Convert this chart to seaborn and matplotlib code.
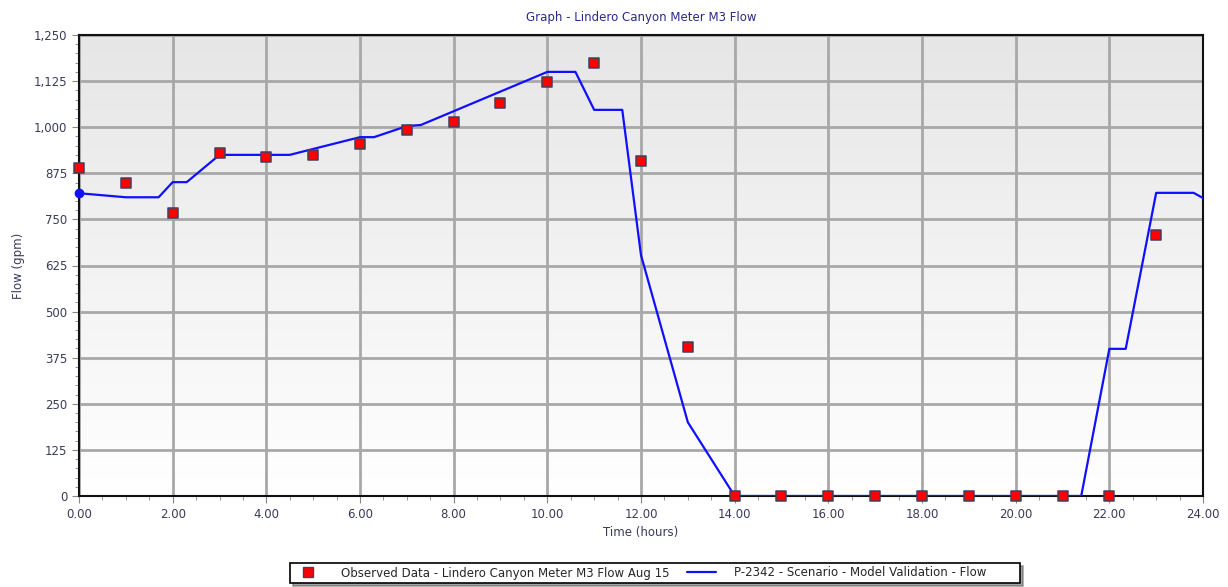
import numpy as np
import pandas as pd
import seaborn as sns
import matplotlib.pyplot as plt
from matplotlib.ticker import MultipleLocator, FuncFormatter
from matplotlib.colors import LinearSegmentedColormap
from matplotlib.lines import Line2D

# Observed data (hourly)
obs_hours = list(range(0, 24))
obs_flow = [889, 849, 767, 930, 919, 925, 954, 992, 1014, 1066, 1123, 1174,
            908, 404, 0, 0, 0, 0, 0, 0, 0, 0, 0, 708]

# Model flow (breakpoints of the simulated curve)
model_hours = [0, 1, 1.7, 2.0, 2.3, 3.0, 4.5, 6.0, 6.3, 7.0, 7.3, 10.0, 10.6,
               11.0, 11.6, 12.0, 13.0, 14.0, 21.4, 22.0, 22.35, 23.0, 23.8, 24.0]
model_flow = [821, 810, 810, 851, 851, 925, 925, 973, 973, 1003, 1006, 1150, 1150,
              1047, 1047, 653, 200, 0, 0, 399, 399, 822, 822, 808]

obs = pd.DataFrame({'hours': obs_hours, 'flow': obs_flow})
model = pd.DataFrame({'hours': model_hours, 'flow': model_flow})

sns.set_style('white')
plt.rcParams['font.family'] = ['DejaVu Sans']
text_col = '#3a3a5a'

fig = plt.figure(figsize=(12.28, 5.87), dpi=100)
ax = fig.add_axes([79 / 1228, 1 - 496 / 587, (1203 - 79) / 1228, (496 - 35) / 587])

# gradient background
cmap = LinearSegmentedColormap.from_list('bg', ['#ffffff', '#e6e6e6'])
grad = np.linspace(0, 1, 256).reshape(-1, 1)
ax.imshow(grad, cmap=cmap, extent=[0, 1, 0, 1], transform=ax.transAxes,
          aspect='auto', origin='lower', zorder=0)

sns.lineplot(data=model, x='hours', y='flow', color='#1010ff', lw=1.6, ax=ax, zorder=3)
ax.plot(model_hours[0], model_flow[0], 'o', color='#1010ff', ms=6, zorder=4, clip_on=False)
sns.scatterplot(data=obs, x='hours', y='flow', marker='s', s=48, color='#ff0000',
                edgecolor='#404060', linewidth=1.1, ax=ax, zorder=5, clip_on=False)

ax.set_xlim(0, 24)
ax.set_ylim(0, 1250)
ax.xaxis.set_major_locator(MultipleLocator(2))
ax.xaxis.set_minor_locator(MultipleLocator(0.5))
ax.yaxis.set_major_locator(MultipleLocator(125))
ax.yaxis.set_minor_locator(MultipleLocator(25))
ax.xaxis.set_major_formatter(FuncFormatter(lambda v, p: f'{v:.2f}'))
ax.yaxis.set_major_formatter(FuncFormatter(lambda v, p: f'{v:,.0f}'))
ax.tick_params(axis='both', which='major', direction='out', length=5, color='#888888',
               labelsize=8.5, labelcolor=text_col)
ax.tick_params(axis='both', which='minor', direction='out', length=3, color='#888888')
ax.tick_params(axis='x', which='both', bottom=True)
ax.tick_params(axis='y', which='both', left=True)

ax.grid(True, which='major', color='#a8a8a8', lw=2, zorder=1)
ax.set_axisbelow(True)
for s in ax.spines.values():
    s.set_visible(True)
    s.set_color('#111111')
    s.set_linewidth(1.5)

ax.set_xlabel('Time (hours)', fontsize=8.5, color=text_col, labelpad=4)
ax.set_ylabel('Flow (gpm)', fontsize=8.5, color=text_col, labelpad=6)
ax.set_title('Graph - Lindero Canyon Meter M3 Flow', fontsize=8.5, color='#2a2a8a', pad=10)

handles = [Line2D([], [], marker='s', ls='none', color='#ff0000', markeredgecolor='#404060',
                  ms=7),
           Line2D([], [], color='#1010ff', lw=1.6)]
labels = ['Observed Data - Lindero Canyon Meter M3 Flow Aug 15',
          'P-2342 - Scenario - Model Validation - Flow        ']
leg = fig.legend(handles, labels, loc='center', bbox_to_anchor=(655 / 1228, 1 - 573 / 587),
                 ncol=2, fontsize=8.5, frameon=True, fancybox=False, shadow=True,
                 edgecolor='black', borderpad=0.3, columnspacing=1.5, handlelength=2.5,
                 handletextpad=1.5)
leg.get_frame().set_linewidth(1.2)

fig.savefig('out.png', dpi=100)
